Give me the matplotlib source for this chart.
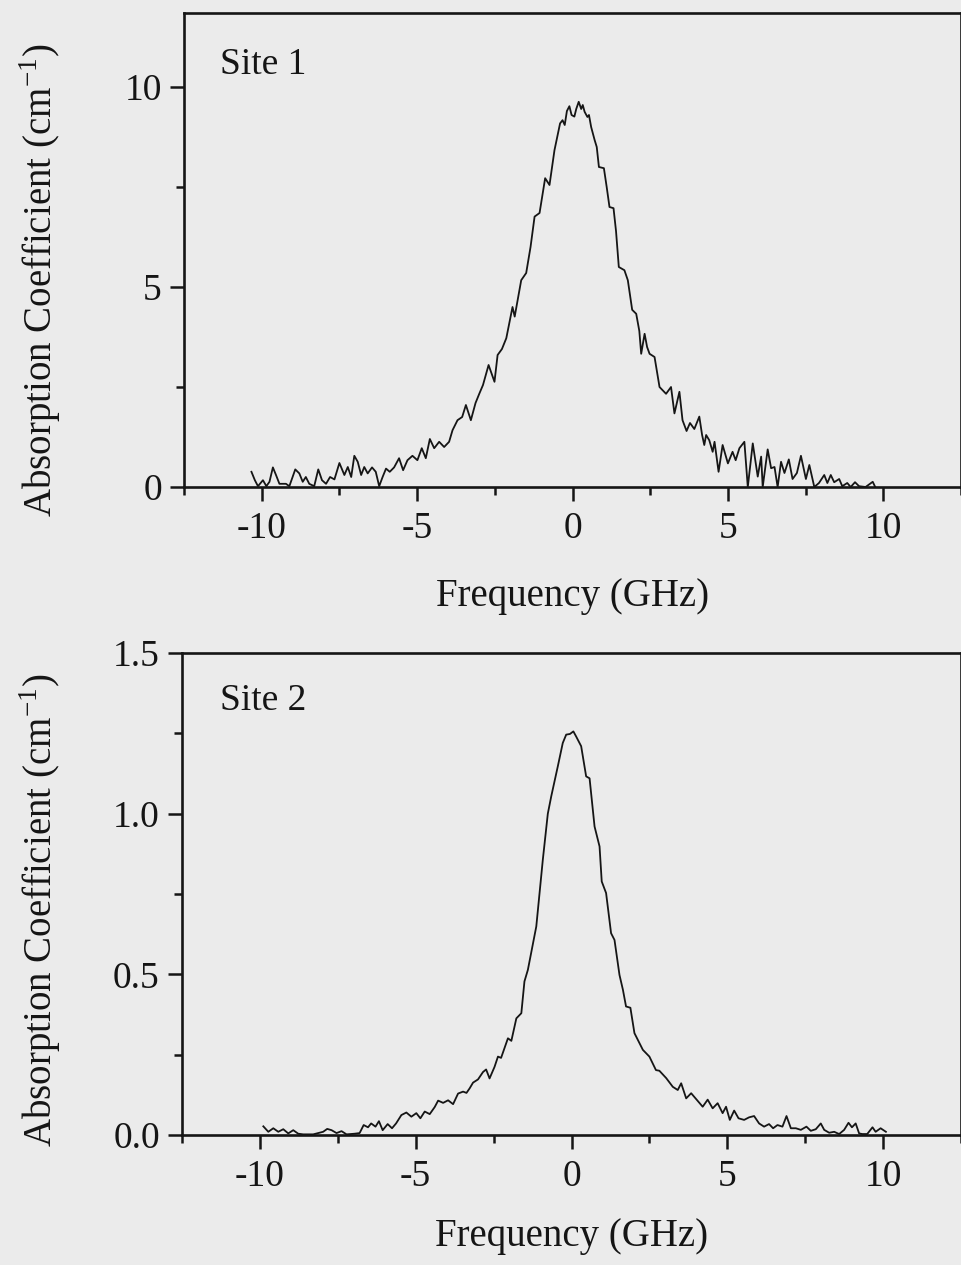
import matplotlib
matplotlib.use("Agg")
import matplotlib.pyplot as plt
import numpy as np
from matplotlib.ticker import MultipleLocator

plt.rcParams['font.family'] = ['Liberation Serif', 'DejaVu Serif']
plt.rcParams['mathtext.fontset'] = 'custom'
plt.rcParams['mathtext.rm'] = 'Liberation Serif'

# Site 1 trace (GHz, cm^-1)
freq1 = [-10.33, -10.22, -10.12, -9.96, -9.85, -9.75, -9.64, -9.54, -9.43, -9.22,
         -9.11, -8.92, -8.79, -8.68, -8.58, -8.47, -8.31, -8.18, -8.06, -7.93,
         -7.80, -7.66, -7.50, -7.34, -7.23, -7.12, -7.02, -6.91, -6.80, -6.70,
         -6.59, -6.45, -6.33, -6.22, -6.11, -6.00, -5.88, -5.74, -5.58, -5.45,
         -5.31, -5.15, -4.99, -4.85, -4.72, -4.59, -4.45, -4.29, -4.13, -3.97,
         -3.86, -3.70, -3.55, -3.43, -3.27, -3.12, -3.00, -2.88, -2.70, -2.51,
         -2.41, -2.27, -2.13, -1.93, -1.86, -1.65, -1.49, -1.35, -1.22, -1.06,
         -0.88, -0.74, -0.58, -0.45, -0.40, -0.32, -0.25, -0.18, -0.10, -0.03,
         0.06, 0.12, 0.20, 0.28, 0.33, 0.39, 0.48, 0.53, 0.60, 0.71,
         0.78, 0.85, 1.01, 1.10, 1.19, 1.32, 1.40, 1.49, 1.67, 1.78,
         1.92, 2.05, 2.15, 2.21, 2.32, 2.40, 2.48, 2.64, 2.80, 3.01,
         3.17, 3.28, 3.44, 3.54, 3.67, 3.78, 3.92, 4.08, 4.17, 4.24,
         4.30, 4.40, 4.51, 4.57, 4.70, 4.83, 5.00, 5.15, 5.25, 5.37,
         5.53, 5.64, 5.80, 5.96, 6.07, 6.12, 6.28, 6.39, 6.50, 6.60,
         6.71, 6.82, 6.96, 7.08, 7.22, 7.35, 7.51, 7.62, 7.78, 7.93,
         8.10, 8.20, 8.31, 8.42, 8.58, 8.68, 8.84, 8.95, 9.09, 9.22,
         9.43, 9.66, 9.74]
absorb1 = [0.38, 0.17, 0.02, 0.17, 0.02, 0.13, 0.49, 0.30, 0.08, 0.08,
           0.02, 0.44, 0.34, 0.13, 0.25, 0.08, 0.02, 0.44, 0.17, 0.08,
           0.25, 0.19, 0.60, 0.30, 0.50, 0.25, 0.78, 0.63, 0.30, 0.50,
           0.34, 0.49, 0.38, 0.02, 0.25, 0.46, 0.38, 0.49, 0.72, 0.42,
           0.67, 0.78, 0.67, 0.97, 0.72, 1.20, 0.97, 1.13, 1.00, 1.13,
           1.42, 1.67, 1.75, 2.05, 1.67, 2.10, 2.33, 2.55, 3.05, 2.63,
           3.30, 3.45, 3.72, 4.50, 4.26, 5.17, 5.35, 6.00, 6.76, 6.85,
           7.72, 7.55, 8.42, 8.90, 9.09, 9.17, 9.05, 9.40, 9.52, 9.30,
           9.26, 9.45, 9.63, 9.45, 9.55, 9.38, 9.25, 9.30, 9.00, 8.68,
           8.50, 8.00, 7.97, 7.50, 7.00, 6.97, 6.40, 5.50, 5.42, 5.17,
           4.43, 4.33, 3.90, 3.33, 3.83, 3.50, 3.33, 3.25, 2.50, 2.33,
           2.50, 1.84, 2.38, 1.67, 1.40, 1.60, 1.45, 1.76, 1.30, 1.05,
           1.30, 1.17, 0.88, 1.13, 0.38, 1.05, 0.59, 0.88, 0.67, 0.97,
           1.13, 0.00, 1.09, 0.26, 0.76, 0.00, 0.94, 0.47, 0.50, 0.00,
           0.63, 0.35, 0.69, 0.20, 0.35, 0.78, 0.20, 0.55, 0.00, 0.10,
           0.30, 0.10, 0.30, 0.12, 0.20, 0.02, 0.10, 0.00, 0.12, 0.02,
           0.00, 0.13, 0.00]

# Site 2 trace
freq2 = [-9.89, -9.73, -9.57, -9.41, -9.25, -9.09, -8.93, -8.77, -8.61, -8.29,
         -7.97, -7.84, -7.70, -7.54, -7.38, -7.22, -6.96, -6.80, -6.67, -6.53,
         -6.43, -6.29, -6.18, -6.06, -5.90, -5.76, -5.63, -5.46, -5.30, -5.14,
         -4.98, -4.85, -4.71, -4.55, -4.39, -4.28, -4.12, -3.96, -3.80, -3.64,
         -3.48, -3.37, -3.27, -3.16, -3.00, -2.84, -2.74, -2.63, -2.47, -2.36,
         -2.26, -2.04, -1.93, -1.77, -1.61, -1.51, -1.40, -1.13, -0.92, -0.76,
         -0.65, -0.44, -0.28, -0.17, -0.05, 0.06, 0.15, 0.31, 0.47, 0.58,
         0.74, 0.90, 0.97, 1.11, 1.27, 1.38, 1.54, 1.65, 1.75, 1.89,
         2.02, 2.29, 2.50, 2.71, 2.82, 3.04, 3.25, 3.41, 3.52, 3.68,
         3.84, 4.06, 4.21, 4.37, 4.53, 4.69, 4.85, 4.96, 5.08, 5.22,
         5.36, 5.54, 5.70, 5.86, 6.02, 6.18, 6.34, 6.47, 6.61, 6.77,
         6.90, 7.04, 7.20, 7.36, 7.54, 7.68, 7.84, 8.00, 8.11, 8.27,
         8.43, 8.59, 8.75, 8.89, 9.00, 9.12, 9.23, 9.33, 9.49, 9.66,
         9.76, 9.92, 10.09]
absorb2 = [0.027, 0.010, 0.021, 0.010, 0.018, 0.005, 0.015, 0.004, 0.002, 0.002,
           0.010, 0.019, 0.015, 0.006, 0.012, 0.002, 0.004, 0.006, 0.031, 0.024,
           0.036, 0.026, 0.043, 0.015, 0.034, 0.021, 0.036, 0.062, 0.070, 0.057,
           0.068, 0.052, 0.073, 0.065, 0.087, 0.107, 0.100, 0.108, 0.096, 0.129,
           0.135, 0.131, 0.145, 0.163, 0.173, 0.196, 0.204, 0.176, 0.212, 0.244,
           0.240, 0.301, 0.293, 0.363, 0.379, 0.478, 0.514, 0.649, 0.857, 1.000,
           1.054, 1.147, 1.220, 1.246, 1.248, 1.256, 1.240, 1.210, 1.116, 1.110,
           0.960, 0.898, 0.789, 0.753, 0.628, 0.607, 0.498, 0.452, 0.400, 0.396,
           0.317, 0.265, 0.244, 0.202, 0.200, 0.177, 0.150, 0.140, 0.161, 0.114,
           0.130, 0.105, 0.088, 0.110, 0.083, 0.099, 0.068, 0.088, 0.047, 0.076,
           0.052, 0.047, 0.055, 0.059, 0.036, 0.026, 0.034, 0.021, 0.031, 0.026,
           0.059, 0.021, 0.021, 0.016, 0.026, 0.013, 0.018, 0.036, 0.016, 0.007,
           0.010, 0.003, 0.016, 0.038, 0.024, 0.036, 0.005, 0.003, 0.003, 0.024,
           0.010, 0.021, 0.010]

bg = '#ebebeb'
ink = '#151515'

fig = plt.figure(figsize=(9.62, 12.65), dpi=100, facecolor=bg)


def style_axes(ax, ylim, ymajor, yminor, ytick_fmt, xlabelpad):
    ax.set_facecolor(bg)
    ax.set_xlim(-12.5, 12.5)
    ax.set_ylim(*ylim)
    ax.xaxis.set_minor_locator(MultipleLocator(2.5))
    ax.yaxis.set_major_locator(MultipleLocator(ymajor))
    ax.yaxis.set_minor_locator(MultipleLocator(yminor))
    ax.set_xticks([-10, -5, 0, 5, 10])
    ax.set_xticklabels(['-10', '-5', '0', '5', '10'])
    ax.yaxis.set_major_formatter(ytick_fmt)
    for s in ax.spines.values():
        s.set_linewidth(1.9)
        s.set_color(ink)
    ax.tick_params(which='major', direction='out', length=10, width=1.8,
                   colors=ink, labelsize=27, pad=6)
    ax.tick_params(which='minor', direction='out', length=6, width=1.8,
                   colors=ink)
    ax.tick_params(axis='x', which='major', pad=8)
    ax.set_xlabel('Frequency (GHz)', fontsize=28, color=ink,
                  labelpad=xlabelpad)


ax1 = fig.add_axes([184 / 962, 1 - 487 / 1265, 777 / 962, 474 / 1265])
ax1.plot(freq1, absorb1, color=ink, lw=1.3)
style_axes(ax1, (0, 11.85), 5, 2.5, lambda v, p: f'{v:.0f}', 23)
ax1.text(0.046, 0.89, 'Site 1', transform=ax1.transAxes, fontsize=27,
         color=ink, va='center', ha='left')

ax2 = fig.add_axes([182 / 962, 1 - 1135 / 1265, 779 / 962, 482 / 1265])
ax2.plot(freq2, absorb2, color=ink, lw=1.3)
style_axes(ax2, (0, 1.5), 0.5, 0.25, lambda v, p: f'{v:.1f}', 17)
ax2.text(0.049, 0.90, 'Site 2', transform=ax2.transAxes, fontsize=27,
         color=ink, va='center', ha='left')

fig.text(0.042, 1 - 280 / 1265, 'Absorption Coefficient (cm$^{-1}$)',
         rotation=90, fontsize=28, color=ink, ha='center', va='center')
fig.text(0.042, 1 - 910 / 1265, 'Absorption Coefficient (cm$^{-1}$)',
         rotation=90, fontsize=28, color=ink, ha='center', va='center')

fig.savefig('out.png', dpi=100, facecolor=bg)
